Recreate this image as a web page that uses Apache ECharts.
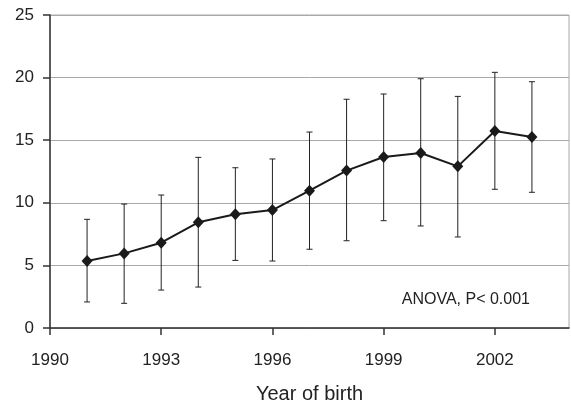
<!DOCTYPE html>
<html><head><meta charset="utf-8">
<script src="https://cdn.jsdelivr.net/npm/echarts@6/dist/echarts.min.js"></script>
<style>html,body{margin:0;padding:0;background:#fff}#c{width:571px;height:404px}</style>
</head><body><div id="c"></div>
<script>
const years = [1991,1992,1993,1994,1995,1996,1997,1998,1999,2000,2001,2002,2003];
const means = [5.35,5.96,6.81,8.44,9.08,9.42,10.97,12.57,13.66,13.98,12.91,15.73,15.26];
const upper = [8.68,9.9,10.62,13.63,12.8,13.5,15.65,18.27,18.69,19.91,18.5,20.42,19.67];
const lower = [2.08,1.97,3.03,3.27,5.4,5.35,6.29,6.97,8.57,8.15,7.27,11.08,10.84];
const xTicks = [1990,1993,1996,1999,2002];
const yTicks = [0,5,10,15,20,25];
const note = 'ANOVA, P< 0.001';
const xTitle = 'Year of birth';

const font = 'Liberation Sans, Arial, sans-serif';
const chart = echarts.init(document.getElementById('c'));
chart.setOption({
  animation:false,
  backgroundColor:'#fff',
  grid:{left:50,right:2,top:15,bottom:76,show:true,borderColor:'#a8a8a8',borderWidth:1,
        containLabel:false,outerBoundsMode:'none'},
  xAxis:{type:'value',min:1990,max:2004,interval:3,
    axisLine:{show:true,onZero:false,lineStyle:{color:'#333',width:1.5}},
    axisTick:{show:true,length:7,customValues:xTicks,lineStyle:{color:'#333',width:1.5}},
    axisLabel:{margin:24,fontSize:17,color:'#222',fontFamily:font,customValues:xTicks,
      formatter:v=>String(v)},
    splitLine:{show:false},
    name:xTitle,nameLocation:'middle',nameGap:56,
    nameTextStyle:{fontSize:20,color:'#222',fontFamily:font}},
  yAxis:{type:'value',min:0,max:25,interval:5,
    axisLine:{show:true,lineStyle:{color:'#333',width:1.5}},
    axisTick:{show:true,length:7,lineStyle:{color:'#333',width:1.5}},
    axisLabel:{margin:16,fontSize:17,color:'#222',fontFamily:font,
      formatter:v=>yTicks.includes(v)?String(v):''},
    splitLine:{show:true,lineStyle:{color:'#a8a8a8',width:1}}},
  graphic:[{type:'text',right:41,top:292,style:{text:note,fontSize:16,fill:'#222',fontFamily:font,textAlign:'right'}}],
  series:[
    {type:'custom',z:1,
     data:years.map((y,i)=>[y,lower[i],upper[i]]),
     renderItem:(params,api)=>{
       const lo=api.coord([api.value(0),api.value(1)]);
       const hi=api.coord([api.value(0),api.value(2)]);
       const w=3;
       const st={stroke:'#222',lineWidth:1};
       return {type:'group',children:[
         {type:'line',shape:{x1:lo[0],y1:lo[1],x2:hi[0],y2:hi[1]},style:st},
         {type:'line',shape:{x1:hi[0]-w,y1:hi[1],x2:hi[0]+w,y2:hi[1]},style:st},
         {type:'line',shape:{x1:lo[0]-w,y1:lo[1],x2:lo[0]+w,y2:lo[1]},style:st}
       ]};
     }},
    {type:'line',z:3,data:years.map((y,i)=>[y,means[i]]),
     symbol:'diamond',symbolSize:[11,12],
     lineStyle:{color:'#1a1a1a',width:2},
     itemStyle:{color:'#1a1a1a'}}
  ]
});
</script></body></html>
